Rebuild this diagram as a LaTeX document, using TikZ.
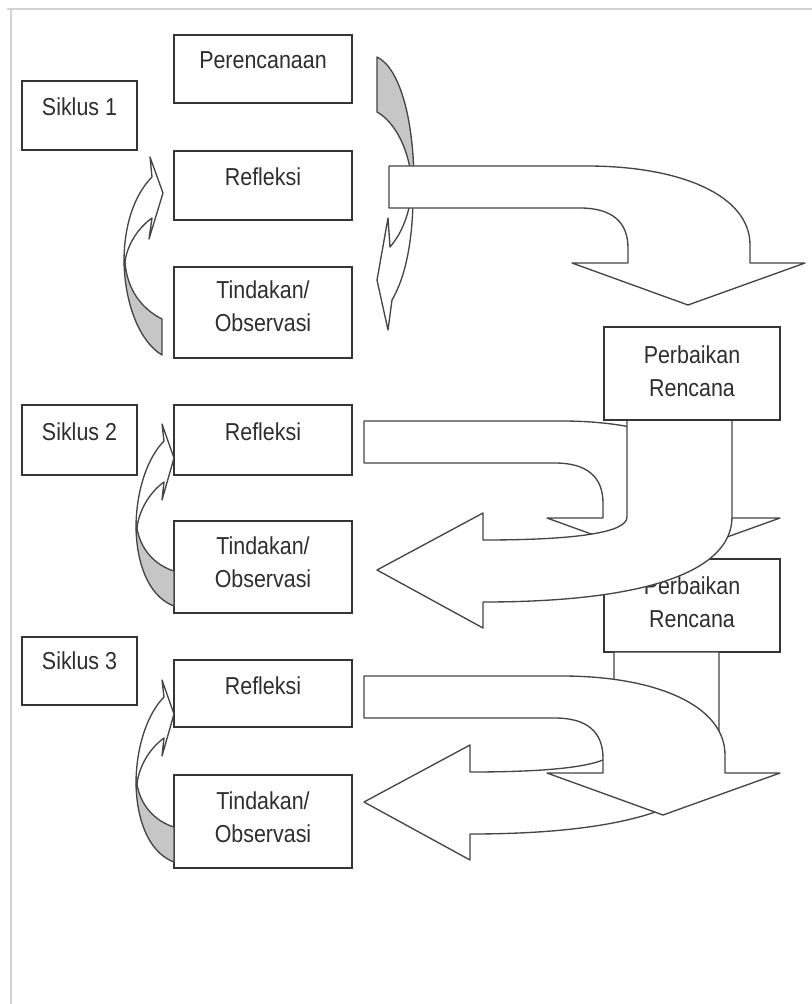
\documentclass[tikz,border=0pt]{standalone}
\usepackage{fontspec}
\setmainfont{Liberation Sans}
\definecolor{boxc}{HTML}{353535}
\definecolor{arrc}{HTML}{454545}
\definecolor{grayc}{HTML}{C6C6C6}
\definecolor{framec}{HTML}{D2D2D2}
\definecolor{txtc}{HTML}{2E2E2E}
\newcommand\stt[1]{\scalebox{0.98}[1.12]{#1}}
\begin{document}
\begin{tikzpicture}[x=0.75pt,y=-0.75pt,
  box/.style={draw=boxc, line width=1.4pt, fill=white, inner sep=0pt, rectangle},
  txt/.style={text=txtc, font=\fontsize{16.4}{25}\selectfont, align=center, inner sep=0pt},
  arr/.style={draw=arrc, line width=1pt, fill=white, line join=round},
  garr/.style={draw=arrc, line width=1pt, fill=grayc, line join=round}]
\useasboundingbox (0,0) rectangle (812,1004);
\fill[white] (0,0) rectangle (812,1004);
\draw[framec, line width=1.5pt] (7,9) -- (812,9);
\draw[framec, line width=1.5pt] (11,9) -- (11,1004);

% left column
\node[box, minimum width=86.25pt, minimum height=51.75pt] (sik1) at (79.5,115.5) {};
\node[txt] (sik1t) at (79.5,107) {\stt{Siklus 1}};
\node[box, minimum width=86.25pt, minimum height=52.5pt] (sik2) at (79.5,440) {};
\node[txt] (sik2t) at (79.5,432) {\stt{Siklus 2}};
\node[box, minimum width=86.25pt, minimum height=51pt] (sik3) at (79.5,671) {};
\node[txt] (sik3t) at (79.5,661) {\stt{Siklus 3}};

% middle column
\node[box, minimum width=133.5pt, minimum height=51pt] (per) at (263,69) {};
\node[txt] (pert) at (263,60) {\stt{Perencanaan}};
\node[box, minimum width=133.5pt, minimum height=51.75pt] (ref1) at (263,185.5) {};
\node[txt] (ref1t) at (263,177) {\stt{Refleksi}};
\node[box, minimum width=133.5pt, minimum height=68.25pt] (tin1) at (263,312.5) {};
\node[txt] (tin1t) at (263,306) {\stt{Tindakan/}\\\stt{Observasi}};
\node[box, minimum width=133.5pt, minimum height=52.5pt] (ref2) at (263,440) {};
\node[txt] (ref2t) at (263,432) {\stt{Refleksi}};
\node[box, minimum width=133.5pt, minimum height=69pt] (tin2) at (263,567) {};
\node[txt] (tin2t) at (263,562) {\stt{Tindakan/}\\\stt{Observasi}};
\node[box, minimum width=133.5pt, minimum height=50.25pt] (ref3) at (263,693.5) {};
\node[txt] (ref3t) at (263,686) {\stt{Refleksi}};
\node[box, minimum width=133.5pt, minimum height=69.75pt] (tin3) at (263,821.5) {};
\node[txt] (tin3t) at (263,817) {\stt{Tindakan/}\\\stt{Observasi}};

% left curved arrows
\path[arr] (124,262) .. controls (124,222) and (136,193) .. (152,177) -- (150,157) -- (163,193) -- (149,239) -- (152,218) .. controls (138,228) and (127,245) .. (125,262) -- cycle;
\path[garr] (124,262) .. controls (125,305) and (140,342) .. (162,355) -- (162,319) .. controls (142,309) and (127,290) .. (125,262) -- cycle;
\foreach \dy in {0,256}{
\begin{scope}[shift={(0,\dy)}]
\path[arr] (136,528) .. controls (136,490) and (148,457) .. (164,441) -- (162,424) -- (174,458) -- (162,500) -- (164,482) .. controls (150,492) and (139,510) .. (137,528) -- cycle;
\path[garr] (136,528) .. controls (137,570) and (152,598) .. (174,606) -- (174,571) .. controls (154,565) and (140,548) .. (137,528) -- cycle;
\end{scope}}

% right curved arrow (siklus 1)
\path[garr] (377,57) .. controls (400,68) and (414,120) .. (414,185) -- (412,185) .. controls (410,150) and (395,122) .. (377,112) -- cycle;
\path[arr] (413,185) .. controls (414,240) and (405,278) .. (392,300) -- (388,330) -- (377,280) -- (388,218) -- (390,247) .. controls (403,232) and (411,210) .. (412,185) -- cycle;

% big bent arrow A
\path[arr] (389,166) -- (587,166) .. controls (680,166) and (750,195) .. (750,245) -- (750,263) -- (805,263) -- (688,305) -- (572,263) -- (628,263) -- (628,248) .. controls (628,222) and (612,208) .. (580,208) -- (389,208) -- cycle;

% Perbaikan 2 box (partly covered later)
\node[box, minimum width=132pt, minimum height=69.75pt] (pr2) at (692,605.5) {};
\node[txt] (pr2t) at (692,602) {\stt{Perbaikan}\\\stt{Rencana}};

% arrow B
\begin{scope}[shift={(-25,255)}]
\path[arr] (389,166) -- (587,166) .. controls (680,166) and (750,195) .. (750,245) -- (750,263) -- (805,263) -- (688,305) -- (572,263) -- (628,263) -- (628,248) .. controls (628,222) and (612,208) .. (580,208) -- (389,208) -- cycle;
\end{scope}
% arrow C
\path[arr] (627,420) -- (627,517) .. controls (627,532) and (580,540) .. (483,540) -- (483,513) -- (377,570) -- (483,628) -- (483,602) .. controls (650,602) and (732,570) .. (732,517) -- (732,420) -- cycle;

% Perbaikan 1 box
\node[box, minimum width=132pt, minimum height=69.75pt] (pr1) at (692,373.5) {};
\node[txt] (pr1t) at (692,371) {\stt{Perbaikan}\\\stt{Rencana}};

% arrow E
\begin{scope}[shift={(-13,232)}]
\path[arr] (627,420) -- (627,517) .. controls (627,532) and (580,540) .. (483,540) -- (483,513) -- (377,570) -- (483,628) -- (483,602) .. controls (650,602) and (732,570) .. (732,517) -- (732,420) -- cycle;
\end{scope}
% arrow D
\begin{scope}[shift={(-25,510)}]
\path[arr] (389,166) -- (587,166) .. controls (680,166) and (750,195) .. (750,245) -- (750,263) -- (805,263) -- (688,305) -- (572,263) -- (628,263) -- (628,248) .. controls (628,222) and (612,208) .. (580,208) -- (389,208) -- cycle;
\end{scope}
\end{tikzpicture}
\end{document}
